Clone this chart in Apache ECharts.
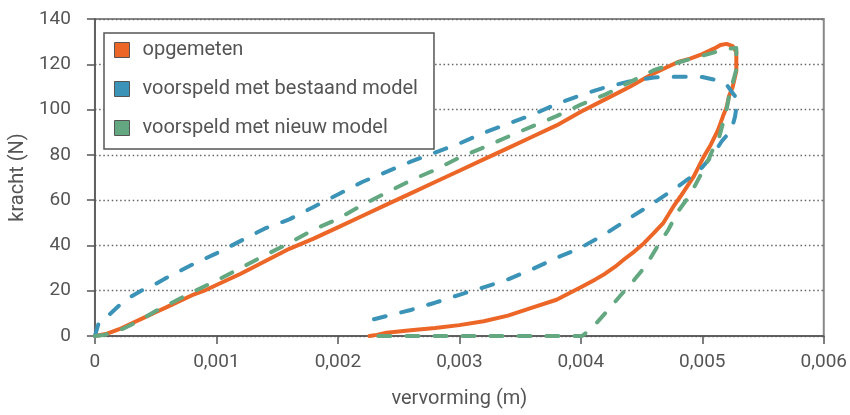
<!DOCTYPE html>
<html>
<head>
<meta charset="utf-8">
<script src="https://cdn.jsdelivr.net/npm/echarts@6/dist/echarts.min.js"></script>
<style>
html,body{margin:0;padding:0;background:#fff;}
#chart{width:850px;height:415px;}
</style>
</head>
<body>
<div id="chart"></div>
<script>
// ---- data ----
const seriesNames = ['opgemeten', 'voorspeld met bestaand model', 'voorspeld met nieuw model'];
const xTicks = [0, 0.001, 0.002, 0.003, 0.004, 0.005, 0.006];
const yTicks = [0, 20, 40, 60, 80, 100, 120, 140];

// measured (loading then unloading)
const measuredX = [0, 0.0001, 0.0002, 0.0003, 0.0004, 0.0005, 0.0006, 0.0007, 0.0008, 0.0009, 0.001, 0.0012, 0.0014, 0.0016, 0.0018, 0.002, 0.0022, 0.0024, 0.0026, 0.0028, 0.003, 0.0032, 0.0034, 0.0036, 0.0038, 0.004, 0.0042, 0.0044, 0.0046, 0.0048, 0.0049, 0.005, 0.0051, 0.00515, 0.0052, 0.00525, 0.00528,
  0.00528, 0.00525, 0.00522, 0.0052, 0.00517, 0.00513, 0.00507, 0.00501, 0.00493, 0.00482, 0.00476, 0.00468, 0.0046, 0.00452, 0.00444, 0.00436, 0.00428, 0.0042, 0.00412, 0.004, 0.0038, 0.0036, 0.0034, 0.0032, 0.003, 0.0028, 0.0026, 0.0024, 0.00232, 0.00226];
const measuredY = [0, 1, 3, 5.5, 8, 10.5, 13, 15.5, 18, 20, 22.5, 27.5, 33, 38.5, 43, 48, 53, 58, 63, 68, 73, 78, 83, 88, 93, 99, 104.5, 110, 116, 121, 122.5, 124.5, 127, 128.5, 129, 128, 125.5,
  117, 110, 106, 101, 97, 91, 84.5, 79, 70.5, 61.6, 57, 50, 45.4, 41, 37.3, 34, 30.5, 27.5, 25, 21.5, 16, 12.5, 9, 6.5, 4.8, 3.5, 2.5, 1.4, 0.5, 0];

// existing model
const existingX = [0, 0.00003, 0.0001, 0.0002, 0.0003, 0.0004, 0.0005, 0.0006, 0.0008, 0.001, 0.0012, 0.0014, 0.0016, 0.0018, 0.002, 0.0022, 0.0024, 0.0026, 0.0028, 0.003, 0.0032, 0.0034, 0.0036, 0.0038, 0.004, 0.0042, 0.0044, 0.0046, 0.0048, 0.005, 0.0051, 0.0052, 0.00524, 0.00529,
  0.00527, 0.00525, 0.0052, 0.00516, 0.0051, 0.005, 0.0049, 0.0048, 0.0046, 0.0044, 0.0042, 0.004, 0.0038, 0.0036, 0.0034, 0.0032, 0.003, 0.0028, 0.0026, 0.0024, 0.002275];
const existingY = [0, 5.6, 8.5, 13.5, 17.5, 20.5, 23, 26, 31.5, 36.5, 42, 47.5, 51.5, 57, 62.5, 68, 72.5, 77, 81, 85, 89.7, 93.7, 97.7, 102.4, 106.4, 109.8, 112.4, 114.2, 114.5, 114.4, 113.2, 111, 108, 104.5,
  97, 93, 88.5, 86, 81, 74.5, 70, 66, 58.8, 52, 45, 39, 34.5, 29.5, 25, 21.5, 18.2, 14.7, 11.5, 8.8, 7.1];

// new model
const newX = [0, 0.00008, 0.00016, 0.00024, 0.00035, 0.0005, 0.0006, 0.0008, 0.001, 0.0012, 0.0014, 0.0016, 0.0018, 0.002, 0.0022, 0.0024, 0.0026, 0.0028, 0.003, 0.0032, 0.0034, 0.0036, 0.0038, 0.004, 0.0042, 0.0044, 0.0046, 0.0048, 0.005, 0.0052, 0.00528,
  0.00528, 0.00525, 0.00522, 0.0052, 0.00517, 0.00514, 0.0051, 0.00505, 0.00498, 0.0049, 0.0048, 0.00472, 0.00463, 0.00454, 0.00444, 0.00433, 0.0042, 0.00409, 0.00401, 0.00232];
const newY = [0, 0.5, 1.9, 3.4, 6.3, 11, 13.8, 19.3, 24.5, 30, 35.7, 41, 47, 51.7, 57.8, 63.3, 68.7, 73.4, 78.8, 83.3, 88, 92.6, 97.1, 102.2, 106.6, 112, 117.4, 120.8, 123.8, 126.8, 127.2,
  117.6, 111.8, 105.8, 100, 94, 88, 84, 77.8, 70.5, 62.4, 55, 46.9, 39.5, 31.4, 24.8, 18.1, 10, 3.4, 0, 0];

const colors = ['#ec6727', '#3b93b7', '#64a882'];

function zip(xs, ys) { return xs.map((x, i) => [x, ys[i]]); }

const FONT = 'Roboto';
const TXT = '#555';

const chart = echarts.init(document.getElementById('chart'), null, {renderer: 'canvas'});
const dashed = {type: [12, 16], cap: 'round', join: 'round', width: 4};

chart.setOption({
  animation: false,
  textStyle: {fontFamily: FONT},
  grid: {left: 90, right: 17, top: 19, bottom: 79, show: true, borderColor: '#888', borderWidth: 2, backgroundColor: 'transparent'},
  legend: {
    orient: 'vertical', left: 104, top: 33,
    backgroundColor: '#fff', borderColor: '#555', borderWidth: 1.5,
    padding: [7, 16, 11, 10],
    itemWidth: 15, itemHeight: 15, itemGap: 19,
    icon: 'rect',
    itemStyle: {borderColor: '#555', borderWidth: 1},
    textStyle: {fontFamily: FONT, fontSize: 20, color: TXT, lineHeight: 20, padding: [0, 0, 0, 8]},
    data: seriesNames
  },
  xAxis: {
    type: 'value', min: xTicks[0], max: xTicks[xTicks.length - 1], interval: 0.001,
    name: 'vervorming (m)', nameLocation: 'middle', nameGap: 53,
    nameTextStyle: {fontFamily: FONT, fontSize: 20, color: TXT},
    axisLine: {show: true, lineStyle: {color: '#555', width: 1.5}},
    axisTick: {show: true, length: 8, lineStyle: {color: '#555', width: 1.5}},
    axisLabel: {fontFamily: FONT, fontSize: 19, color: TXT, margin: 17,
      formatter: v => v === 0 ? '0' : v.toFixed(3).replace('.', ',')},
    splitLine: {show: false}
  },
  yAxis: {
    type: 'value', min: yTicks[0], max: yTicks[yTicks.length - 1], interval: 20,
    name: 'kracht (N)', nameLocation: 'middle', nameGap: 60, nameRotate: 90,
    nameTextStyle: {fontFamily: FONT, fontSize: 20, color: TXT},
    axisLine: {show: true, lineStyle: {color: '#555', width: 1.5}},
    axisTick: {show: true, length: 8, lineStyle: {color: '#555', width: 1.5}},
    axisLabel: {fontFamily: FONT, fontSize: 19, color: TXT, margin: 24},
    splitLine: {show: true, lineStyle: {color: '#666', width: 1.3, type: [1.5, 2.7]}}
  },
  series: [
    {name: seriesNames[0], type: 'line', data: zip(measuredX, measuredY), showSymbol: false, symbol: 'none',
     itemStyle: {color: colors[0]}, lineStyle: {color: colors[0], width: 4, join: 'round', cap: 'round'}},
    {name: seriesNames[1], type: 'line', data: zip(existingX, existingY), showSymbol: false, symbol: 'none',
     itemStyle: {color: colors[1]}, lineStyle: Object.assign({color: colors[1]}, dashed)},
    {name: seriesNames[2], type: 'line', data: zip(newX, newY), showSymbol: false, symbol: 'none',
     itemStyle: {color: colors[2]}, lineStyle: Object.assign({color: colors[2]}, dashed)}
  ]
});
</script>
</body>
</html>
